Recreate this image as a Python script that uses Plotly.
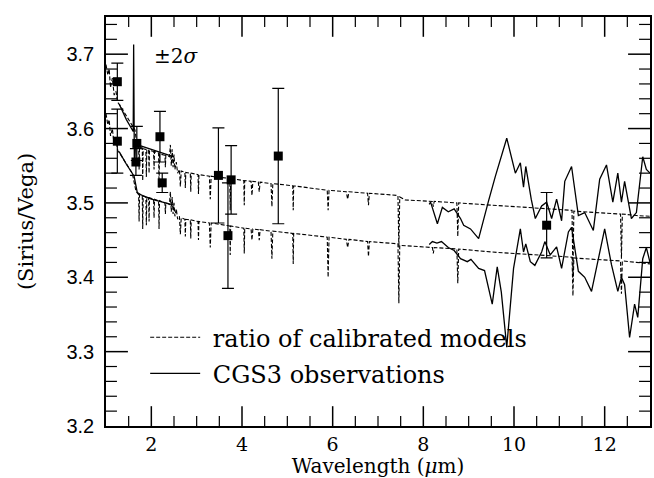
import plotly.graph_objects as go

# ---------------- data ----------------
# ratio of calibrated models, upper (+2 sigma) envelope
model_hi_x = [1.00, 1.04, 1.07, 1.10, 1.14, 1.18, 1.22, 1.26, 1.30, 1.64, 1.68,
              1.72, 1.73, 1.74, 1.80, 1.81, 1.82, 1.88, 1.89, 1.90, 1.94, 1.95, 1.96,
              2.05, 2.06, 2.07, 2.16, 2.17, 2.18, 2.30, 2.31, 2.32,
              2.40, 2.42, 2.44, 2.46, 2.48, 2.50, 2.52, 2.55, 2.58, 2.62, 2.64, 2.66,
              2.74, 2.75, 2.76, 2.86, 2.87, 2.88, 3.03, 3.04, 3.05, 3.28, 3.30, 3.32,
              3.40, 3.73, 3.74, 3.75, 4.04, 4.05, 4.06, 4.20, 4.22, 4.24, 4.36, 4.38, 4.40,
              4.64, 4.66, 4.68, 5.12, 5.13, 5.14, 5.50, 5.88, 5.90, 5.92, 6.30, 6.33, 6.36,
              6.77, 6.79, 6.81, 7.44, 7.46, 7.48, 7.60, 8.20, 8.22, 8.24, 8.74, 8.76, 8.78,
              9.50, 10.00, 10.50, 11.00, 11.28, 11.30, 11.32, 11.80, 12.35, 12.37, 12.39,
              12.70, 13.00]
model_hi_y = [3.686, 3.672, 3.680, 3.655, 3.668, 3.645, 3.650, 3.635, 3.632, 3.598, 3.578,
              3.576, 3.545, 3.575, 3.574, 3.530, 3.573, 3.572, 3.535, 3.572, 3.571, 3.540, 3.571,
              3.569, 3.545, 3.569, 3.567, 3.520, 3.566, 3.564, 3.548, 3.564,
              3.562, 3.578, 3.550, 3.572, 3.548, 3.565, 3.545, 3.555, 3.540, 3.545, 3.522, 3.543,
              3.541, 3.520, 3.541, 3.540, 3.515, 3.540, 3.538, 3.512, 3.538, 3.536, 3.505, 3.536,
              3.535, 3.533, 3.490, 3.533, 3.530, 3.497, 3.530, 3.529, 3.510, 3.529, 3.528, 3.515, 3.528,
              3.526, 3.495, 3.526, 3.523, 3.490, 3.523, 3.520, 3.517, 3.490, 3.517, 3.515, 3.505, 3.515,
              3.513, 3.497, 3.513, 3.510, 3.440, 3.508, 3.504, 3.502, 3.495, 3.502, 3.500, 3.455, 3.500,
              3.497, 3.495, 3.493, 3.491, 3.490, 3.400, 3.489, 3.487, 3.485, 3.425, 3.485,
              3.483, 3.482]

# ratio of calibrated models, lower (-2 sigma) envelope
model_lo_x = [1.00, 1.04, 1.07, 1.10, 1.14, 1.18, 1.22, 1.26, 1.30, 1.58, 1.66,
              1.72, 1.73, 1.74, 1.80, 1.81, 1.82, 1.88, 1.89, 1.90, 1.94, 1.95, 1.96,
              2.05, 2.06, 2.07, 2.16, 2.17, 2.18, 2.30, 2.31, 2.32,
              2.40, 2.42, 2.44, 2.46, 2.48, 2.50, 2.52, 2.55, 2.58, 2.62, 2.64, 2.66,
              2.74, 2.75, 2.76, 2.86, 2.87, 2.88, 3.03, 3.04, 3.05, 3.28, 3.30, 3.32,
              3.73, 3.74, 3.75, 4.04, 4.05, 4.06, 4.20, 4.22, 4.24, 4.36, 4.38, 4.40,
              4.64, 4.66, 4.68, 5.12, 5.13, 5.14, 5.88, 5.90, 5.92, 6.30, 6.33, 6.36,
              6.77, 6.79, 6.81, 7.44, 7.46, 7.48, 8.20, 8.22, 8.24, 8.74, 8.76, 8.78,
              9.50, 10.00, 10.50, 11.00, 11.28, 11.30, 11.32, 11.80, 12.35, 12.37, 12.39,
              12.70, 13.00]
model_lo_y = [3.620, 3.605, 3.612, 3.590, 3.600, 3.578, 3.585, 3.570, 3.567, 3.540, 3.516,
              3.511, 3.475, 3.511, 3.510, 3.465, 3.509, 3.508, 3.470, 3.508, 3.507, 3.475, 3.507,
              3.505, 3.480, 3.505, 3.503, 3.465, 3.503, 3.500, 3.485, 3.500,
              3.498, 3.515, 3.488, 3.508, 3.485, 3.500, 3.482, 3.492, 3.478, 3.482, 3.458, 3.480,
              3.478, 3.455, 3.478, 3.477, 3.452, 3.477, 3.475, 3.450, 3.475, 3.473, 3.440, 3.473,
              3.469, 3.430, 3.469, 3.466, 3.432, 3.466, 3.465, 3.450, 3.465, 3.464, 3.450, 3.464,
              3.462, 3.425, 3.462, 3.459, 3.418, 3.459, 3.454, 3.400, 3.454, 3.451, 3.440, 3.451,
              3.448, 3.428, 3.448, 3.445, 3.365, 3.443, 3.440, 3.432, 3.440, 3.438, 3.392, 3.438,
              3.434, 3.432, 3.430, 3.428, 3.427, 3.375, 3.426, 3.424, 3.422, 3.378, 3.422,
              3.420, 3.418]

# near-IR observed ratio (solid), upper and lower envelopes
nir_hi_x = [1.29, 1.45, 1.60, 1.61, 1.625, 1.66, 1.75, 2.00, 2.25, 2.50]
nir_hi_y = [3.633, 3.612, 3.596, 3.713, 3.560, 3.582, 3.577, 3.572, 3.567, 3.562]
nir_lo_x = [1.29, 1.45, 1.62, 1.69, 1.80, 2.00, 2.25, 2.50]
nir_lo_y = [3.569, 3.552, 3.536, 3.514, 3.510, 3.505, 3.501, 3.497]

# CGS3 observations (solid), upper envelope
cgs3_hi_x = [8.13, 8.16, 8.31, 8.42, 8.55, 8.68, 8.82, 8.89, 9.04, 9.22, 9.44, 9.59,
             9.84, 10.03, 10.14, 10.21, 10.26, 10.38, 10.47, 10.61, 10.72, 10.83, 10.94,
             11.05, 11.12, 11.27, 11.42, 11.56, 11.75, 11.89, 12.04, 12.18, 12.29, 12.37,
             12.44, 12.59, 12.70, 12.84, 12.92, 13.00]
cgs3_hi_y = [3.498, 3.501, 3.472, 3.494, 3.488, 3.492, 3.479, 3.470, 3.465, 3.452, 3.503, 3.536,
             3.587, 3.540, 3.554, 3.521, 3.549, 3.505, 3.479, 3.496, 3.501, 3.479, 3.505,
             3.476, 3.529, 3.549, 3.483, 3.487, 3.463, 3.532, 3.551, 3.501, 3.540, 3.501,
             3.529, 3.479, 3.487, 3.562, 3.545, 3.540]

# CGS3 observations (solid), lower envelope
cgs3_lo_x = [8.13, 8.20, 8.30, 8.40, 8.55, 8.68, 8.82, 8.97, 9.05, 9.22, 9.35, 9.52,
             9.63, 9.72, 9.84, 9.99, 10.14, 10.21, 10.26, 10.36, 10.46, 10.61, 10.68,
             10.80, 10.94, 11.05, 11.20, 11.27, 11.42, 11.56, 11.71, 11.89, 12.00, 12.15,
             12.29, 12.37, 12.44, 12.55, 12.66, 12.73, 12.84, 12.92, 13.00]
cgs3_lo_y = [3.444, 3.448, 3.446, 3.448, 3.440, 3.436, 3.425, 3.421, 3.424, 3.412, 3.409, 3.364,
             3.414, 3.380, 3.306, 3.412, 3.465, 3.434, 3.445, 3.421, 3.416, 3.434, 3.448,
             3.430, 3.441, 3.412, 3.461, 3.467, 3.408, 3.400, 3.381, 3.434, 3.465, 3.417,
             3.381, 3.400, 3.390, 3.319, 3.364, 3.346, 3.425, 3.440, 3.420]

# photometric points with +-2 sigma error bars
phot_x = [1.25, 1.25, 1.68, 1.66, 2.19, 2.24, 3.48, 3.76, 3.69, 4.80, 10.72]
phot_y = [3.663, 3.583, 3.580, 3.555, 3.589, 3.527, 3.537, 3.531, 3.456, 3.563, 3.470]
phot_err = [0.025, 0.043, 0.023, 0.018, 0.034, 0.013, 0.064, 0.046, 0.071, 0.091, 0.044]

# axis ranges and tick positions
x_range = [1, 13]
y_range = [3.2, 3.75]
x_major_ticks = [2, 4, 6, 8, 10, 12]
x_minor_ticks = [1.5, 2.5, 3, 3.5, 4.5, 5, 5.5, 6.5, 7, 7.5, 8.5, 9, 9.5,
                 10.5, 11, 11.5, 12.5]
y_major_ticks = [3.3, 3.4, 3.5, 3.6, 3.7]
y_minor_ticks = [3.22, 3.24, 3.26, 3.28, 3.32, 3.34, 3.36, 3.38, 3.42, 3.44, 3.46, 3.48,
                 3.52, 3.54, 3.56, 3.58, 3.62, 3.64, 3.66, 3.68, 3.72, 3.74]

legend_model = "\u00a0ratio of calibrated models"
legend_obs = "\u00a0CGS3 observations"

# ---------------- geometry ----------------
W, H = 654, 478
M_L, M_R, M_T, M_B = 106, 2, 17, 48
PLOT_W = W - M_L - M_R
PLOT_H = H - M_T - M_B
x_per_px = (x_range[1] - x_range[0]) / PLOT_W
y_per_px = (y_range[1] - y_range[0]) / PLOT_H


def x_tick_path(vals, length_px):
    """Inward ticks on the bottom and top edges, as one polyline with gaps."""
    dy = length_px * y_per_px
    xs, ys = [], []
    for v in vals:
        xs += [v, v, None, v, v, None]
        ys += [y_range[0], y_range[0] + dy, None, y_range[1], y_range[1] - dy, None]
    return xs, ys


def y_tick_path(vals, length_px):
    """Inward ticks on the left and right edges, as one polyline with gaps."""
    dx = length_px * x_per_px
    xs, ys = [], []
    for v in vals:
        xs += [x_range[0], x_range[0] + dx, None, x_range[1], x_range[1] - dx, None]
        ys += [v, v, None, v, v, None]
    return xs, ys


# ---------------- figure ----------------
SERIF = "DejaVu Serif"
SANS = "Liberation Sans"
dash_line = dict(color="black", width=1.1, dash="4px,2px")
solid_line = dict(color="black", width=1.3)

fig = go.Figure()

# tick marks (axis decoration)
for (xs, ys), wd in ((x_tick_path(x_major_ticks, 20), 1.5),
                     (x_tick_path(x_minor_ticks, 10), 1.2),
                     (y_tick_path(y_major_ticks, 22), 1.5),
                     (y_tick_path(y_minor_ticks, 11), 1.2)):
    fig.add_trace(go.Scatter(x=xs, y=ys, mode="lines", connectgaps=False,
                             line=dict(color="black", width=wd),
                             hoverinfo="skip", showlegend=False, cliponaxis=False))

fig.add_trace(go.Scatter(x=model_hi_x, y=model_hi_y, mode="lines", line=dash_line,
                         name=legend_model, legendgroup="m", showlegend=True))
fig.add_trace(go.Scatter(x=model_lo_x, y=model_lo_y, mode="lines", line=dash_line,
                         legendgroup="m", showlegend=False))
fig.add_trace(go.Scatter(x=nir_hi_x, y=nir_hi_y, mode="lines", line=solid_line,
                         legendgroup="o", showlegend=False))
fig.add_trace(go.Scatter(x=nir_lo_x, y=nir_lo_y, mode="lines", line=solid_line,
                         legendgroup="o", showlegend=False))
fig.add_trace(go.Scatter(x=cgs3_hi_x, y=cgs3_hi_y, mode="lines", line=solid_line,
                         name=legend_obs, legendgroup="o", showlegend=True))
fig.add_trace(go.Scatter(x=cgs3_lo_x, y=cgs3_lo_y, mode="lines", line=solid_line,
                         legendgroup="o", showlegend=False))
fig.add_trace(go.Scatter(x=phot_x, y=phot_y, mode="markers",
                         marker=dict(symbol="square", size=9, color="black"),
                         error_y=dict(type="data", array=phot_err, visible=True,
                                      color="black", thickness=1.2, width=6),
                         showlegend=False))

fig.add_annotation(x=2.02, y=3.697, xref="x", yref="y", text="±2<i>σ</i>",
                   showarrow=False, xanchor="left", yanchor="middle",
                   font=dict(family=SERIF, size=20, color="black"))

fig.update_layout(
    width=W, height=H, autosize=False,
    margin=dict(l=M_L, r=M_R, t=M_T, b=M_B),
    paper_bgcolor="white", plot_bgcolor="white",
    xaxis=dict(
        range=x_range, tickmode="linear", tick0=2, dtick=2, ticks="",
        showline=True, linecolor="black", linewidth=1.5, mirror="allticks",
        showgrid=False, zeroline=False,
        tickfont=dict(family=SERIF, size=19, color="black"),
        title=dict(text="Wavelength (<i>μ</i>m)", standoff=7,
                   font=dict(family=SERIF, size=20, color="black")),
    ),
    yaxis=dict(
        range=y_range, tickmode="linear", tick0=3.2, dtick=0.1, tickformat=".1f",
        ticks="", showline=True, linecolor="black", linewidth=1.5, mirror="allticks",
        showgrid=False, zeroline=False,
        tickfont=dict(family=SANS, size=20, color="black"),
        ticklabelstandoff=6,
        title=dict(text="(Sirius/Vega)", standoff=27,
                   font=dict(family=SERIF, size=21, color="black")),
    ),
    legend=dict(x=0.072, y=0.271, xanchor="left", yanchor="top",
                bgcolor="rgba(0,0,0,0)", borderwidth=0,
                font=dict(family=SERIF, size=24, color="black"),
                itemwidth=50, traceorder="grouped", tracegroupgap=2),
)

fig.write_html("out.html")
